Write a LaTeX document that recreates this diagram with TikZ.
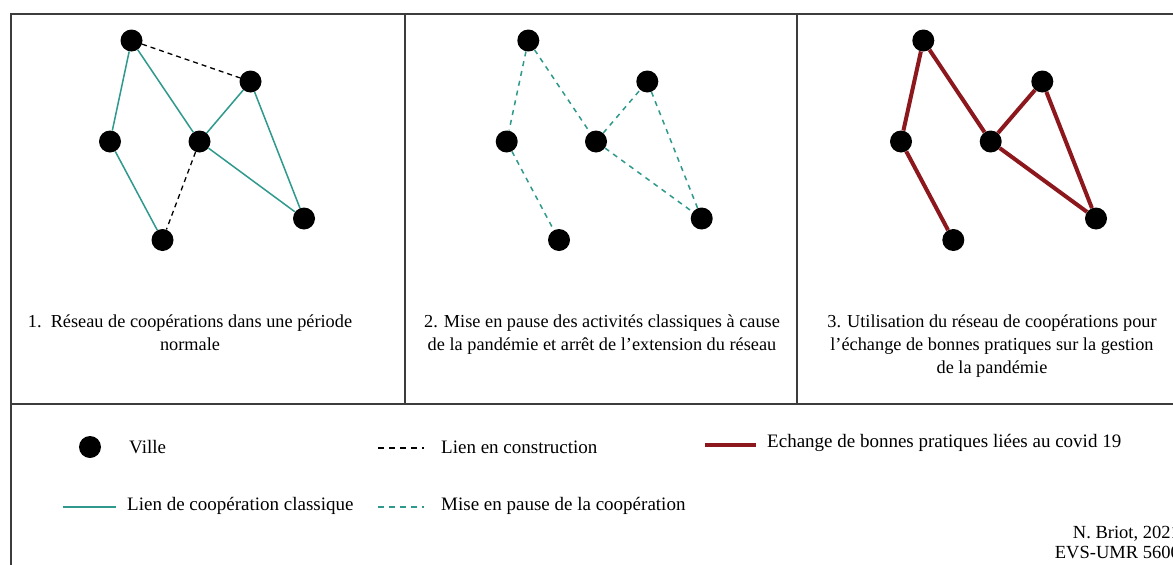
\documentclass[tikz,border=0pt]{standalone}
\usepackage{fontspec}
\setmainfont{Liberation Serif}
\definecolor{teal1}{RGB}{46,153,140}
\definecolor{red1}{RGB}{140,24,30}
\definecolor{frame1}{RGB}{60,60,60}
\tikzset{
  city/.style={circle,fill=black,minimum size=22pt,inner sep=0pt},
  coop/.style={teal1,line width=1.5pt},
  build/.style={black,line width=1.3pt,dash pattern=on 5pt off 4pt},
  pause/.style={teal1,line width=1.5pt,dash pattern=on 5pt off 5pt},
  covid/.style={red1,line width=4pt},
  caption/.style={align=center,font=\fontsize{18.3}{23}\selectfont,inner sep=0pt},
  legtxt/.style={anchor=west,font=\fontsize{19}{20}\selectfont,inner sep=0pt},
  framel/.style={frame1,line width=1.5pt}
}
\begin{document}
\begin{tikzpicture}[x=1pt,y=-1pt]
\clip (0,0) rectangle (1173,565);
\fill[white] (0,0) rectangle (1173,565);
% frame
\draw[framel] (11,620) -- (11,14) -- (1200,14);
\draw[framel] (405,14) -- (405,404);
\draw[framel] (797,14) -- (797,404);
\draw[framel] (11,404) -- (1200,404);
% panel 1
\node[city] (a1) at (131.5,40.5) {};
\node[city] (b1) at (250.5,81.5) {};
\node[city] (c1) at (110,141.5) {};
\node[city] (d1) at (199.5,141.5) {};
\node[city] (e1) at (304,218.5) {};
\node[city] (f1) at (162.5,240) {};
\draw[coop] (a1) -- (c1);
\draw[coop] (a1) -- (d1);
\draw[coop] (b1) -- (d1);
\draw[coop] (b1) -- (e1);
\draw[coop] (d1) -- (e1);
\draw[coop] (c1) -- (f1);
\draw[build] (a1) -- (b1);
\draw[build] (d1) -- (f1);
% panel 2
\node[city] (a2) at (528.3,40.5) {};
\node[city] (b2) at (647.3,81.5) {};
\node[city] (c2) at (506.7,141.5) {};
\node[city] (d2) at (596,141.5) {};
\node[city] (e2) at (701.7,218.5) {};
\node[city] (f2) at (559,240) {};
\draw[pause] (a2) -- (c2);
\draw[pause] (a2) -- (d2);
\draw[pause] (d2) -- (b2);
\draw[pause] (b2) -- (e2);
\draw[pause] (d2) -- (e2);
\draw[pause] (c2) -- (f2);
% panel 3
\node[city] (a3) at (923.3,40.5) {};
\node[city] (b3) at (1042.3,81.5) {};
\node[city] (c3) at (901,141.5) {};
\node[city] (d3) at (990.7,141.5) {};
\node[city] (e3) at (1096,218.5) {};
\node[city] (f3) at (953.3,240) {};
\draw[covid] (a3) -- (c3);
\draw[covid] (a3) -- (d3);
\draw[covid] (d3) -- (b3);
\draw[covid] (b3) -- (e3);
\draw[covid] (d3) -- (e3);
\draw[covid] (c3) -- (f3);
% captions
\node[caption,anchor=north] (cap1) at (190,315) {1.\ \ Réseau de coopérations dans une période\\normale};
\node[caption,anchor=north] (cap2) at (602,315) {2. Mise en pause des activités classiques à cause\\de la pandémie et arrêt de l'extension du réseau};
\node[caption,anchor=north] (cap3) at (992,315) {3. Utilisation du réseau de coopérations pour\\l'échange de bonnes pratiques sur la gestion\\de la pandémie};
% legend
\node[city] (lv) at (90,447) {};
\node[legtxt] (tv) at (129,447) {Ville};
\coordinate (lb1) at (378,448);
\coordinate (lb2) at (424,448);
\draw[build,dash pattern=on 6pt off 5pt] (lb1) -- (lb2);
\node[legtxt] (tb) at (441,447) {Lien en construction};
\coordinate (lr1) at (705,445);
\coordinate (lr2) at (756,445);
\draw[covid] (lr1) -- (lr2);
\node[legtxt] (tr) at (767,443) {Echange de bonnes pratiques liées au covid 19};
\coordinate (lc1) at (63,507);
\coordinate (lc2) at (116,507);
\draw[coop] (lc1) -- (lc2);
\node[legtxt] (tc) at (127,506) {Lien de coopération classique};
\coordinate (lp1) at (378,507);
\coordinate (lp2) at (424,507);
\draw[pause,dash pattern=on 6pt off 5pt] (lp1) -- (lp2);
\node[legtxt] (tp) at (441,506) {Mise en pause de la coopération};
\node[anchor=north east,align=right,font=\fontsize{18.5}{20}\selectfont,inner sep=0pt] (auth) at (1180,526) {N. Briot, 2021\\EVS-UMR 5600};
\end{tikzpicture}
\end{document}
